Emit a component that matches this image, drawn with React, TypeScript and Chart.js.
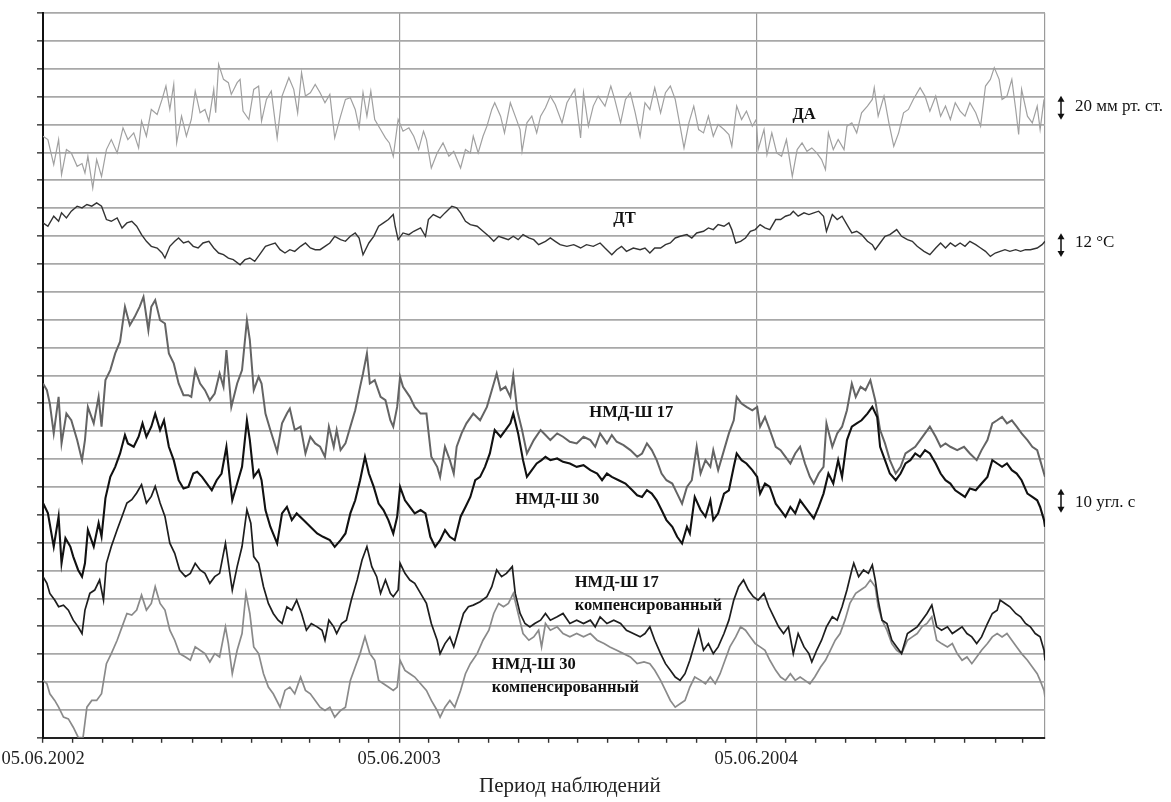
import React, { useEffect, useRef } from "react";
import { Chart, registerables } from "chart.js";

Chart.register(...registerables);

// x = days since 05.06.2002, y = value in grid divisions (chart offset units)
const X_MAX = 1027;
const MONTH_TICKS = [0, 30, 61, 92, 122, 153, 183, 214, 245, 273, 304, 334, 365, 395, 426, 457, 487, 518, 548, 579, 610, 639, 670, 700, 731, 761, 792, 823, 853, 884, 914, 945, 976, 1004];
const YEAR_TICKS = [0, 365, 731];
const YEAR_LABELS = ["05.06.2002", "05.06.2003", "05.06.2004"];
const Y_MIN = 0;
const Y_MAX = 26;

const DA: number[][] = [
  [0,21.58],[5,21.46],[11,20.56],[16,21.46],[19,20.2],[24,21.1],[29,20.98],[35,20.5],[40,20.6],[43,20.26],[46,20.86],[51,19.72],[55,20.74],[60,20.14],[65,21.1],[70,21.46],[76,20.98],[82,21.88],[87,21.46],[93,21.7],[98,21.16],[101,22.12],[106,21.58],[111,22.54],[117,22.36],[122,22.9],[126,23.38],[130,22.54],[134,23.44],[137,21.34],[142,22.3],[147,21.58],[152,22.18],[156,23.2],[161,22.42],[166,22.54],[170,22.12],[175,23.26],[177,22.42],[180,24.16],[185,23.62],[190,23.5],[193,23.08],[199,23.5],[202,23.62],[205,22.48],[211,22.18],[216,23.26],[221,23.38],[224,22.12],[229,22.9],[234,23.2],[240,21.52],[245,23.02],[252,23.68],[257,23.26],[261,22.42],[265,23.86],[269,23.02],[274,23.14],[279,23.44],[284,23.14],[289,22.78],[294,23.08],[299,21.52],[305,22.3],[310,22.9],[315,22.96],[320,22.54],[324,21.88],[328,23.14],[332,22.3],[336,23.2],[340,22.18],[346,21.82],[351,21.52],[355,21.34],[359,20.86],[364,22.18],[369,21.76],[375,21.88],[380,21.58],[385,21.1],[390,21.76],[393,21.46],[398,20.44],[404,20.98],[410,21.34],[416,20.86],[421,21.04],[428,20.44],[433,21.1],[438,20.98],[441,21.58],[446,20.98],[451,21.58],[455,21.94],[460,22.54],[463,22.78],[469,22.3],[473,21.7],[479,22.78],[484,22.3],[489,21.82],[491,21.04],[496,22.06],[501,22.3],[506,21.7],[510,22.3],
  [515,22.6],[520,23.02],[525,22.72],[532,22.06],[537,22.78],[545,23.26],[551,21.52],[554,23.14],[559,21.94],[564,22.66],[569,23.02],[576,22.66],[582,23.38],[586,22.9],[592,22.06],[597,22.9],[602,23.14],[607,22.42],[612,21.58],[617,22.78],[622,22.54],[627,23.32],[633,22.42],[638,23.14],[643,23.38],[648,22.9],[653,21.94],[657,21.16],[662,22.06],[667,22.66],[672,21.82],[677,21.7],[682,22.3],[687,21.58],[692,22.0],[698,21.82],[703,21.64],[706,21.22],[711,22.66],[716,22.18],[721,22.48],[727,21.94],[731,22.18],[733,21.1],[739,21.82],[742,20.92],[747,21.7],[752,20.98],[757,20.86],[762,21.46],[768,20.14],[773,21.1],[778,21.34],[783,21.04],[788,21.16],[793,20.98],[798,20.74],[802,20.38],[805,21.7],[810,21.1],[815,21.46],[821,21.1],[824,21.94],[829,22.06],[834,21.7],[839,22.42],[845,22.66],[850,22.9],[852,23.32],[856,22.3],[862,23.02],[867,22.06],[872,21.22],[877,21.7],[882,22.42],[887,22.54],[892,22.9],[899,23.32],[904,23.02],[909,22.48],[915,23.02],[920,22.3],[925,22.66],[930,22.18],[935,22.78],[940,22.48],[945,22.3],[950,22.78],[956,22.42],[961,21.94],[966,23.38],[971,23.62],[975,24.04],[980,23.62],[983,22.9],[988,23.02],[993,23.62],[997,22.54],[1000,21.64],[1003,23.26],[1009,22.3],[1014,22.06],[1019,22.66],[1022,21.82],[1026,22.9],[1027,22.3]
];

const DT: number[][] = [
  [0,18.47],[5,18.35],[11,18.71],[16,18.53],[19,18.83],[24,18.65],[29,18.89],[35,19.07],[40,19.01],[45,19.13],[50,19.07],[55,19.19],[60,19.07],[65,18.59],[70,18.53],[76,18.65],[81,18.29],[86,18.47],[91,18.53],[96,18.35],[101,18.05],[106,17.81],[111,17.63],[117,17.57],[122,17.39],[125,17.21],[130,17.63],[135,17.81],[139,17.93],[144,17.75],[149,17.81],[154,17.63],[159,17.57],[164,17.75],[170,17.81],[175,17.57],[180,17.39],[185,17.33],[190,17.21],[195,17.15],[202,16.97],[207,17.15],[212,17.21],[217,17.09],[222,17.33],[228,17.63],[233,17.69],[238,17.75],[243,17.51],[248,17.39],[253,17.51],[258,17.45],[264,17.63],[269,17.75],[274,17.57],[279,17.51],[284,17.51],[289,17.63],[294,17.75],[299,17.99],[305,17.87],[310,17.81],[315,17.99],[320,18.11],[324,17.93],[328,17.33],[334,17.75],[339,17.99],[344,18.35],[349,18.47],[354,18.59],[359,18.77],[361,18.35],[364,17.87],[369,18.11],[375,18.05],[380,18.17],[387,18.29],[392,17.99],[395,18.59],[400,18.77],[407,18.65],[412,18.83],[419,19.07],[424,19.01],[428,18.83],[433,18.53],[438,18.41],[445,18.35],[451,18.17],[457,17.99],[462,17.81],[467,17.99],[472,17.93],[477,17.87],[482,17.99],[487,17.87],[492,18.05],[498,17.93],[503,17.87],[508,17.69],
  [515,17.81],[520,17.93],[525,17.81],[530,17.69],[537,17.63],[544,17.69],[551,17.57],[557,17.69],[564,17.63],[571,17.75],[576,17.57],[583,17.33],[588,17.51],[593,17.63],[598,17.45],[605,17.57],[612,17.51],[617,17.57],[622,17.39],[627,17.57],[633,17.57],[638,17.69],[643,17.75],[648,17.93],[653,17.99],[660,18.05],[665,17.93],[670,18.11],[677,18.17],[682,18.29],[687,18.23],[692,18.41],[698,18.35],[703,18.47],[706,18.23],[710,17.75],[715,17.81],[720,17.93],[725,18.17],[730,18.23],[735,18.41],[740,18.29],[745,18.23],[751,18.59],[756,18.59],[761,18.71],[766,18.77],[769,18.89],[774,18.71],[780,18.83],[785,18.77],[790,18.83],[795,18.89],[800,18.71],[803,18.17],[809,18.77],[814,18.59],[819,18.71],[824,18.41],[829,18.11],[834,18.17],[839,18.05],[845,17.81],[850,17.69],[853,17.51],[858,17.75],[863,17.99],[868,18.05],[875,18.23],[880,17.99],[886,17.87],[891,17.81],[896,17.63],[903,17.45],[909,17.33],[915,17.57],[920,17.75],[925,17.57],[930,17.75],[935,17.63],[940,17.75],[945,17.63],[950,17.81],[956,17.69],[961,17.57],[966,17.45],[971,17.27],[976,17.39],[981,17.45],[986,17.51],[991,17.45],[997,17.51],[1002,17.45],[1007,17.51],[1012,17.51],[1019,17.57],[1024,17.69],[1027,17.81]
];

const NMD17: number[][] = [
  [0,12.71],[4,12.47],[7,11.99],[11,10.92],[16,12.23],[19,10.56],[24,11.63],[29,11.39],[35,10.68],[40,9.96],[43,10.68],[46,11.87],[52,11.28],[57,12.23],[60,11.16],[64,12.83],[69,13.19],[74,13.79],[79,14.21],[84,15.46],[89,14.8],[94,15.1],[99,15.46],[103,15.82],[108,14.62],[111,15.46],[115,15.7],[120,14.98],[125,14.86],[129,13.79],[134,13.43],[139,12.71],[144,12.29],[149,12.29],[152,12.23],[156,13.19],[161,12.71],[166,12.47],[171,12.11],[176,12.35],[181,13.07],[185,12.59],[188,13.91],[193,11.87],[199,12.71],[204,13.19],[209,14.98],[212,14.27],[216,12.47],[221,12.95],[224,12.71],[228,11.63],[233,11.04],[240,10.26],[245,11.28],[250,11.63],[253,11.81],[258,11.04],[264,11.16],[269,10.2],[274,10.8],[279,10.56],[284,10.44],[289,10.08],[293,11.16],[298,10.44],[301,11.04],[305,10.32],[310,10.56],[315,11.16],[320,11.75],[325,12.59],[328,13.07],[332,13.79],[335,12.71],[340,12.83],[346,12.23],[351,12.11],[356,11.39],[359,11.16],[363,11.87],[366,12.95],[369,12.59],[376,12.23],[381,11.87],[387,11.63],[393,11.63],[398,10.08],[404,9.72],[407,9.36],[412,10.44],[417,9.96],[421,9.48],[424,10.44],[429,10.92],[434,11.28],[441,11.63],[448,11.39],[455,11.87],[460,12.47],[465,13.07],[469,12.47],[474,12.59],[479,12.23],[482,13.01],[486,11.75],[491,11.04],[496,10.2],[503,10.68],[510,11.04],
  [515,10.86],[520,10.68],[527,10.92],[533,10.8],[540,10.62],[547,10.56],[554,10.8],[561,10.68],[566,10.44],[571,10.92],[578,10.56],[583,10.86],[588,10.62],[595,10.5],[602,10.32],[609,10.08],[614,10.2],[619,10.56],[624,10.32],[629,9.96],[634,9.48],[639,9.24],[645,9.12],[650,8.76],[655,8.4],[660,9.0],[665,9.24],[670,10.44],[674,9.48],[679,9.96],[684,9.72],[687,10.32],[692,9.6],[698,10.32],[703,10.92],[708,11.39],[711,12.23],[716,11.99],[721,11.87],[727,11.75],[732,11.87],[735,11.16],[740,11.51],[745,11.04],[751,10.44],[756,10.32],[761,10.08],[766,9.84],[771,10.2],[776,10.44],[781,9.84],[786,9.36],[790,9.12],[795,9.48],[800,9.72],[803,11.28],[809,10.44],[814,10.92],[819,11.16],[824,11.75],[829,12.71],[833,12.23],[838,12.59],[843,12.47],[848,12.83],[853,12.11],[858,11.04],[863,10.56],[868,9.96],[874,9.48],[879,9.72],[884,10.2],[889,10.32],[894,10.44],[899,10.68],[904,10.92],[909,11.16],[915,10.8],[920,10.44],[925,10.56],[930,10.44],[937,10.32],[944,10.44],[950,10.2],[957,9.96],[962,10.32],[968,10.68],[973,11.28],[978,11.39],[983,11.51],[988,11.28],[993,11.39],[998,11.16],[1003,10.92],[1009,10.68],[1014,10.44],[1019,10.32],[1022,9.96],[1026,9.48],[1027,9.36]
];

const NMD30: number[][] = [
  [0,8.42],[5,8.06],[11,6.86],[16,7.94],[19,6.26],[23,7.16],[28,6.86],[31,6.5],[36,6.02],[40,5.78],[43,6.26],[46,7.46],[52,6.86],[57,7.7],[60,7.22],[64,8.6],[69,9.36],[74,9.72],[79,10.2],[84,10.86],[87,10.56],[93,10.44],[98,10.8],[102,11.28],[106,10.8],[111,11.16],[115,11.63],[120,11.04],[124,11.39],[129,10.44],[134,9.96],[139,9.24],[144,8.94],[149,9.0],[154,9.48],[158,9.54],[163,9.36],[168,9.12],[173,8.88],[178,9.24],[183,9.48],[188,10.44],[192,9.12],[194,8.52],[199,9.12],[204,9.72],[209,11.39],[212,10.68],[216,9.36],[221,9.6],[224,9.24],[228,8.17],[233,7.57],[240,6.97],[245,8.05],[250,8.28],[255,7.81],[260,8.05],[267,7.81],[274,7.57],[281,7.33],[287,7.21],[294,7.09],[299,6.85],[305,7.09],[310,7.33],[315,8.05],[320,8.52],[325,9.24],[330,10.08],[334,9.48],[339,9.0],[344,8.4],[349,8.17],[354,7.81],[359,7.33],[363,7.93],[366,9.0],[371,8.52],[376,8.28],[381,8.05],[387,8.17],[392,8.05],[397,7.21],[402,6.85],[407,7.09],[412,7.45],[417,7.21],[422,7.09],[428,7.93],[433,8.28],[438,8.64],[443,9.24],[448,9.36],[453,9.72],[458,10.2],[463,11.04],[469,10.8],[474,11.04],[479,11.28],[482,11.63],[487,10.92],[492,9.96],[496,9.36],[501,9.6],[506,9.84],[511,9.96],
  [515,10.08],[520,9.96],[527,10.02],[533,9.9],[540,9.84],[547,9.72],[554,9.78],[561,9.6],[568,9.48],[573,9.24],[578,9.48],[583,9.36],[590,9.24],[597,9.12],[604,8.88],[609,8.7],[614,8.64],[619,8.88],[624,8.76],[629,8.52],[634,8.17],[639,7.81],[645,7.57],[650,7.21],[655,6.97],[660,7.57],[663,7.33],[668,8.64],[674,8.17],[679,7.93],[684,8.52],[687,7.81],[692,8.05],[698,8.76],[703,8.88],[708,9.72],[711,10.2],[716,9.96],[721,9.84],[727,9.6],[732,9.36],[735,8.76],[740,9.12],[745,9.0],[751,8.4],[756,8.17],[761,7.93],[766,8.28],[771,8.05],[776,8.52],[781,8.28],[786,8.05],[790,7.87],[795,8.28],[800,8.76],[805,9.48],[810,9.12],[815,9.96],[819,9.36],[824,10.68],[829,11.16],[834,11.28],[839,11.39],[845,11.63],[850,11.87],[855,11.51],[858,10.44],[863,9.96],[868,9.48],[874,9.24],[879,9.48],[884,9.84],[889,9.96],[894,10.2],[899,10.08],[904,10.32],[909,10.2],[915,9.84],[920,9.48],[925,9.24],[930,9.12],[935,8.88],[940,8.76],[945,8.64],[950,8.94],[956,8.88],[962,9.12],[968,9.36],[973,9.96],[978,9.84],[983,9.72],[988,9.84],[993,9.6],[998,9.48],[1003,9.24],[1009,8.76],[1014,8.64],[1019,8.52],[1022,8.28],[1026,7.81],[1027,7.57]
];

const NMD17_COMP: number[][] = [
  [0,5.78],[4,5.54],[7,5.18],[12,4.94],[16,4.7],[21,4.76],[26,4.58],[31,4.22],[36,3.98],[40,3.74],[43,4.58],[48,5.18],[53,5.3],[58,5.66],[62,4.94],[65,6.26],[70,6.86],[76,7.46],[81,7.94],[86,8.42],[91,8.54],[96,8.78],[101,9.08],[106,8.42],[111,8.66],[115,9.02],[120,8.42],[125,7.94],[130,6.98],[135,6.62],[140,6.02],[146,5.78],[151,5.9],[156,6.26],[161,6.02],[166,5.9],[171,5.54],[176,5.78],[181,5.9],[187,6.98],[190,6.26],[194,5.3],[199,6.14],[204,6.86],[209,8.18],[213,7.7],[216,6.5],[221,6.26],[226,5.42],[231,4.82],[236,4.46],[241,4.22],[245,4.1],[250,4.7],[255,4.58],[260,4.94],[265,4.46],[270,3.86],[275,4.1],[281,3.98],[286,3.86],[289,3.5],[293,4.22],[298,3.98],[301,3.74],[306,4.1],[311,4.22],[316,4.94],[322,5.66],[327,6.38],[332,6.86],[337,6.14],[342,5.78],[346,5.18],[351,5.66],[356,5.18],[359,5.06],[364,5.3],[366,6.26],[371,5.9],[376,5.66],[381,5.54],[387,5.18],[393,4.82],[398,4.1],[404,3.5],[407,3.02],[412,3.38],[417,3.62],[421,3.26],[426,3.86],[431,4.46],[436,4.7],[441,4.76],[448,4.88],[455,5.06],[460,5.42],[465,6.02],[470,5.78],[475,5.9],[481,6.14],[484,5.18],[489,4.46],[494,4.1],[499,3.98],[504,4.1],[510,4.22],
  [515,4.46],[520,4.22],[527,4.34],[533,4.46],[540,4.1],[547,4.22],[554,4.1],[561,4.22],[566,3.98],[571,4.34],[578,4.1],[585,4.22],[592,4.1],[598,3.86],[605,3.74],[612,3.62],[617,3.74],[622,3.98],[627,3.5],[633,3.02],[638,2.66],[643,2.42],[648,2.18],[653,2.06],[658,2.3],[663,2.78],[668,3.38],[672,3.86],[677,3.14],[682,3.38],[687,3.02],[692,3.26],[698,3.74],[703,4.22],[708,4.94],[713,5.42],[718,5.66],[723,5.3],[728,5.06],[733,4.94],[739,5.18],[744,4.7],[749,4.34],[754,3.98],[759,3.74],[764,3.98],[769,3.02],[774,3.74],[780,3.26],[785,3.02],[788,2.72],[793,3.14],[798,3.5],[803,3.98],[809,4.34],[814,4.22],[819,4.7],[824,5.3],[829,6.02],[831,6.26],[836,5.78],[841,6.02],[846,5.9],[850,6.2],[853,5.66],[856,4.94],[860,4.22],[865,4.1],[870,3.5],[875,3.26],[880,3.02],[886,3.74],[891,3.86],[896,3.98],[901,4.22],[906,4.46],[911,4.76],[916,3.98],[921,3.86],[927,3.98],[932,3.74],[937,3.86],[942,3.98],[947,3.74],[952,3.62],[957,3.38],[962,3.62],[968,4.1],[973,4.46],[978,4.58],[981,4.94],[986,4.82],[991,4.7],[997,4.46],[1002,4.34],[1007,4.1],[1012,3.98],[1017,3.74],[1022,3.62],[1026,3.14],[1027,2.78]
];

const NMD30_COMP: number[][] = [
  [0,2.06],[4,1.94],[7,1.58],[12,1.34],[16,1.1],[21,0.74],[26,0.68],[31,0.38],[36,0.02],[41,0.0],[45,1.1],[50,1.34],[55,1.34],[60,1.58],[65,2.66],[70,3.02],[76,3.5],[81,3.98],[86,4.46],[91,4.4],[96,4.58],[101,5.12],[106,4.58],[111,4.82],[115,5.42],[120,4.82],[125,4.58],[130,3.86],[135,3.5],[140,3.02],[146,2.9],[151,2.78],[156,3.26],[161,3.14],[166,3.02],[171,2.72],[176,3.02],[181,2.9],[187,3.98],[190,3.38],[194,2.3],[199,3.14],[204,3.74],[208,5.18],[212,4.46],[216,3.26],[221,3.02],[226,2.3],[231,1.82],[236,1.58],[243,1.1],[248,1.7],[253,1.82],[258,1.58],[264,2.18],[269,1.7],[274,1.58],[279,1.34],[284,1.1],[289,0.98],[294,1.1],[299,0.74],[305,0.98],[310,1.1],[315,2.06],[320,2.54],[325,3.02],[330,3.62],[335,3.02],[340,2.78],[344,2.06],[349,1.94],[354,1.82],[359,1.7],[363,1.82],[366,2.78],[371,2.42],[376,2.3],[381,2.18],[387,1.94],[393,1.7],[398,1.34],[404,0.98],[407,0.74],[412,1.1],[417,1.34],[422,1.1],[428,1.7],[433,2.3],[438,2.66],[445,3.02],[451,3.5],[457,3.86],[462,4.46],[467,4.82],[472,4.7],[477,4.82],[482,5.18],[487,4.46],[492,3.74],[498,3.5],[503,3.62],[508,3.86],[511,3.26],
  [515,4.1],[520,3.86],[527,3.98],[533,3.74],[540,3.62],[547,3.74],[554,3.62],[561,3.74],[568,3.5],[575,3.38],[581,3.26],[588,3.14],[595,3.02],[602,2.9],[609,2.66],[616,2.72],[622,2.66],[627,2.42],[633,2.06],[638,1.7],[643,1.34],[648,1.1],[653,1.22],[658,1.34],[663,1.82],[668,2.18],[674,2.06],[679,1.94],[684,2.18],[689,1.94],[694,2.3],[699,2.78],[704,3.26],[710,3.62],[715,3.98],[720,3.86],[725,3.62],[730,3.38],[735,3.26],[740,3.14],[745,2.78],[751,2.42],[756,2.18],[761,2.06],[766,2.3],[771,2.06],[776,2.18],[781,2.06],[786,1.94],[791,2.18],[797,2.54],[802,2.78],[807,3.14],[812,3.5],[817,3.74],[822,4.22],[827,4.82],[833,5.18],[838,5.3],[843,5.42],[848,5.66],[853,5.42],[856,4.7],[860,4.22],[865,3.86],[870,3.38],[875,3.14],[880,3.02],[886,3.5],[891,3.62],[896,3.74],[901,3.98],[906,4.1],[911,4.34],[916,3.5],[921,3.38],[927,3.26],[932,3.38],[937,3.02],[942,2.78],[947,2.9],[952,2.66],[957,2.9],[962,3.14],[968,3.38],[973,3.62],[978,3.74],[983,3.62],[988,3.74],[993,3.5],[998,3.26],[1003,3.02],[1009,2.78],[1014,2.54],[1019,2.3],[1022,2.06],[1026,1.7],[1027,1.46]
];

const SERIES_LABELS = [
  { lines: ["ДА"], day: 780, value: 22.35, align: "center" },
  { lines: ["ДТ"], day: 596, value: 18.62, align: "center" },
  { lines: ["НМД-Ш 17"], day: 603, value: 11.66, align: "center" },
  { lines: ["НМД-Ш 30"], day: 527, value: 8.54, align: "center" },
  { lines: ["НМД-Ш 17", "компенсированный"], day: 545, value: 5.56, align: "left" },
  { lines: ["НМД-Ш 30", "компенсированный"], day: 460, value: 2.62, align: "left" },
];

const SCALE_MARKERS = [
  { text: "20 мм рт. ст.", top: 23.03, bottom: 22.17, value: 22.64 },
  { text: "12 °C", top: 18.1, bottom: 17.25, value: 17.75 },
  { text: "10 угл. с", top: 8.93, bottom: 8.07, value: 8.43 },
];

const AXIS_TITLE = "Период наблюдений";

const FONT = "'Liberation Serif', 'Times New Roman', serif";

const annotationPlugin = {
  id: "annotations",
  afterDraw(chart: any) {
    const { ctx, chartArea } = chart;
    const xs = chart.scales.x;
    const ys = chart.scales.y;
    ctx.save();
    ctx.fillStyle = "#111";
    ctx.textBaseline = "middle";
    ctx.font = `bold 16.5px ${FONT}`;
    for (const l of SERIES_LABELS) {
      ctx.textAlign = l.align;
      const px = xs.getPixelForValue(l.day);
      const py = ys.getPixelForValue(l.value);
      l.lines.forEach((t, i) => ctx.fillText(t, px, py + i * 23));
    }
    ctx.font = `17px ${FONT}`;
    ctx.textAlign = "left";
    ctx.strokeStyle = "#111";
    ctx.lineWidth = 1.5;
    for (const m of SCALE_MARKERS) {
      const ax = chartArea.right + 16;
      const y1 = ys.getPixelForValue(m.top);
      const y2 = ys.getPixelForValue(m.bottom);
      ctx.beginPath();
      ctx.moveTo(ax, y1 + 3);
      ctx.lineTo(ax, y2 - 3);
      ctx.stroke();
      ctx.beginPath();
      ctx.moveTo(ax, y1);
      ctx.lineTo(ax - 3.5, y1 + 6);
      ctx.lineTo(ax + 3.5, y1 + 6);
      ctx.closePath();
      ctx.fill();
      ctx.beginPath();
      ctx.moveTo(ax, y2);
      ctx.lineTo(ax - 3.5, y2 - 6);
      ctx.lineTo(ax + 3.5, y2 - 6);
      ctx.closePath();
      ctx.fill();
      ctx.fillText(m.text, chartArea.right + 30, ys.getPixelForValue(m.value));
    }
    ctx.font = `21px ${FONT}`;
    ctx.textAlign = "center";
    ctx.fillStyle = "#222";
    ctx.fillText(AXIS_TITLE, xs.getPixelForValue(540), chartArea.bottom + 49);
    ctx.restore();
  },
};

const toXY = (arr: number[][]) => arr.map(([x, y]) => ({ x, y }));

export default function App() {
  const ref = useRef<HTMLCanvasElement>(null);
  useEffect(() => {
    if (!ref.current) return;
    const mk = (label: string, data: number[][], color: string, width: number) => ({
      label,
      data: toXY(data),
      borderColor: color,
      borderWidth: width,
      pointRadius: 0,
      tension: 0,
      fill: false,
    });
    const chart = new Chart(ref.current, {
      type: "line",
      data: {
        datasets: [
          mk("НМД-Ш 30", NMD30, "#111111", 2.1),
          mk("НМД-Ш 17 компенсированный", NMD17_COMP, "#1e1e1e", 1.7),
          mk("НМД-Ш 17", NMD17, "#646464", 2.0),
          mk("НМД-Ш 30 компенсированный", NMD30_COMP, "#8a8a8a", 1.7),
          mk("ДТ", DT, "#333333", 1.4),
          mk("ДА", DA, "#a0a0a0", 1.2),
        ],
      },
      options: {
        animation: false,
        responsive: false,
        events: [],
        layout: { padding: { left: 37, right: 126, top: 13, bottom: 27 } },
        plugins: { legend: { display: false }, tooltip: { enabled: false } },
        scales: {
          x: {
            type: "linear",
            min: 0,
            max: X_MAX,
            afterBuildTicks: (scale: any) => {
              scale.ticks = MONTH_TICKS.concat([X_MAX]).map((v) => ({ value: v }));
            },
            afterFit: (scale: any) => {
              scale.paddingLeft = 0;
              scale.paddingRight = 0;
            },
            ticks: {
              autoSkip: false,
              maxRotation: 0,
              minRotation: 0,
              padding: 5,
              color: "#222",
              font: { family: FONT, size: 18.5 },
              callback: (v: any) => {
                const i = YEAR_TICKS.indexOf(Number(v));
                return i >= 0 ? YEAR_LABELS[i] : "";
              },
            },
            grid: {
              color: (c: any) =>
                c.tick && (YEAR_TICKS.includes(c.tick.value) || c.tick.value === X_MAX) ? "#9a9a9a" : "rgba(0,0,0,0)",
              lineWidth: 1.2,
              tickColor: (c: any) => (c.tick && c.tick.value === X_MAX ? "rgba(0,0,0,0)" : "#333"),
              tickWidth: 1.4,
              tickLength: 5,
            },
            border: { color: "#222", width: 2 },
          },
          y: {
            type: "linear",
            min: Y_MIN,
            max: Y_MAX,
            ticks: { display: false, stepSize: 1 },
            grid: { color: "#a8a8a8", lineWidth: 1.7, tickColor: "#333", tickLength: 6, tickWidth: 1.4 },
            border: { color: "#111", width: 2 },
          },
        },
      },
      plugins: [annotationPlugin],
    } as any);
    return () => chart.destroy();
  }, []);
  return (
    <div style={{ position: "absolute", left: 0, top: 0, width: 1171, height: 802, background: "#fff" }}>
      <canvas ref={ref} width={1171} height={802} style={{ display: "block" }} />
    </div>
  );
}
